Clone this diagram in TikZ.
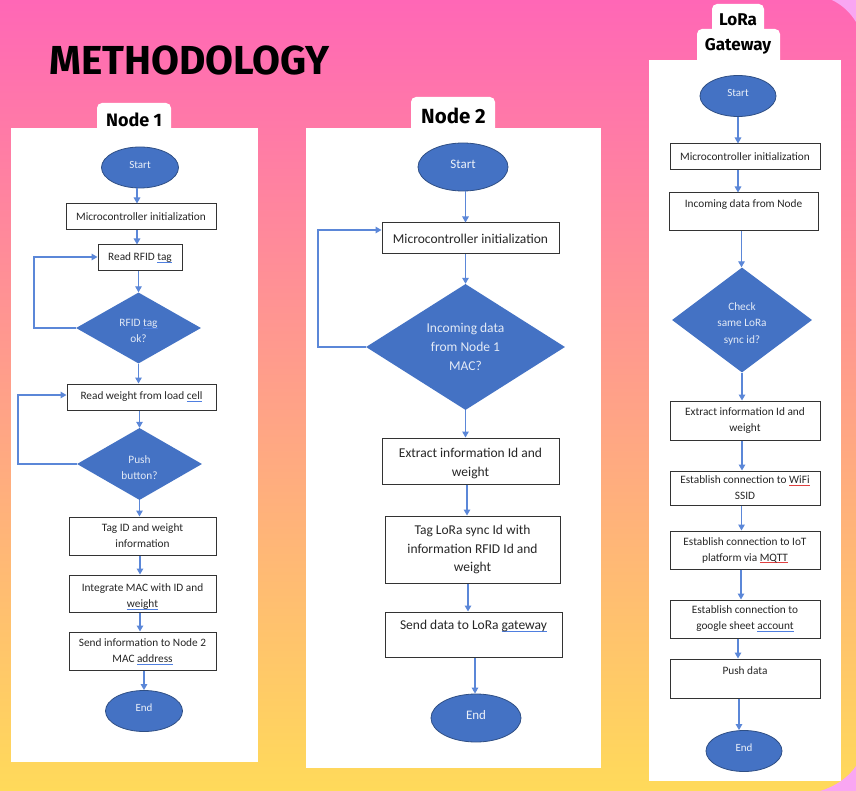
\documentclass[tikz,border=0pt]{standalone}
\usepackage{fontspec}
\setmainfont{Carlito}
\newfontfamily\headfont{Fira Sans}
\usetikzlibrary{shapes.geometric,arrows.meta}
\definecolor{flowblue}{HTML}{4472C4}
\definecolor{arrowblue}{HTML}{5B87D8}
\definecolor{edgeblue}{HTML}{2F4F85}
\definecolor{boxedge}{HTML}{333333}
\definecolor{bandpink}{HTML}{FF67B6}
\definecolor{bandmid}{HTML}{FF9A8E}
\definecolor{bandyellow}{HTML}{FFDA5A}
\definecolor{cornerpink}{HTML}{F9A6F2}
\definecolor{wavyblue}{HTML}{4F7FE0}
\definecolor{wavyred}{HTML}{E04040}
\newcommand{\sqb}[1]{{\setbox0\hbox{#1}\rlap{\smash{\raisebox{-2.2pt}{\textcolor{wavyblue}{\rule{\wd0}{0.9pt}}}}}\box0}}
\newcommand{\sqr}[1]{{\setbox0\hbox{#1}\rlap{\smash{\raisebox{-2.2pt}{\textcolor{wavyred}{\rule{\wd0}{0.9pt}}}}}\box0}}
\newcommand{\tp}[1]{\rule{0pt}{#1pt}}
\tikzset{
  x=1pt,y=-1pt,
  boxa/.style={draw=boxedge,line width=1pt,fill=white,inner sep=0pt,align=center,text=black!85,font=\fontsize{11.3}{16}\selectfont},
  boxb/.style={boxa,font=\fontsize{13.5}{18.5}\selectfont},
  term/.style={ellipse,draw=edgeblue,line width=0.8pt,fill=flowblue,text=white!90!flowblue,inner sep=0pt,text depth=6pt,font=\fontsize{11}{12}\selectfont},
  termb/.style={term,font=\fontsize{13}{14}\selectfont},
  dec/.style={diamond,fill=flowblue,text=white!85!flowblue,inner xsep=-15pt,inner ysep=-10pt,align=center,font=\fontsize{11.3}{16.5}\selectfont},
  decb/.style={dec,inner xsep=-25pt,inner ysep=-18pt,font=\fontsize{13.5}{19}\selectfont},
  arr/.style={draw=arrowblue,line width=1.3pt,-{Triangle[length=6pt,width=6.5pt]}},
  headtext/.style={inner sep=0pt,text=black,font=\headfont\bfseries\fontsize{#1}{#1}\selectfont},
}
\newcommand{\rectnode}[7]{\node[#2,minimum width=#5-#3,minimum height=#6-#4] (#1) at ({(#3+#5)/2},{(#4+#6)/2}) {#7};}
\newcommand{\vv}[3]{\draw[arr] (#1.south -| #3,0) -- (#2.north -| #3,0);}
\begin{document}
\begin{tikzpicture}
\useasboundingbox (0,0) rectangle (856,791);
\fill[top color=bandpink,middle color=bandmid,bottom color=bandyellow] (0,0) rectangle (856,791);
\fill[cornerpink] (832,0) .. controls (842,5) and (850,12) .. (856,22) -- (856,0) -- cycle;
\fill[cornerpink] (820,791) .. controls (834,787) and (848,778) .. (856,766) -- (856,791) -- cycle;
\node[headtext=40.5,anchor=base west] (title) at (49,74.5) {METHODOLOGY};

% panels
\fill[white,rounded corners=5pt] (97,103) rectangle (171,135);
\fill[white,rounded corners=5pt] (411,97) rectangle (495,135);
\fill[white,rounded corners=5pt] (712,4) rectangle (764,40);
\fill[white,rounded corners=5pt] (697,29) rectangle (780,66);
\fill[white] (11,128) rectangle (258,762);
\fill[white] (306,128) rectangle (601,768);
\fill[white] (649,60) rectangle (841,781);
\node[headtext=18] (tab1) at (134,119.5) {Node 1};
\node[headtext=20.5] (tab2) at (453.5,116) {Node 2};
\node[headtext=17,align=center,font=\headfont\bfseries\fontsize{17}{25}\selectfont] (tab3) at (738,34) {LoRa\\Gateway};

% Node 1
\node[term,minimum width=77,minimum height=41] (s1) at (140,167.5) {Start};
\rectnode{m1}{boxa}{66}{204}{216}{230}{Microcontroller initialization}
\rectnode{r1}{boxa}{98}{245}{182}{271}{Read RFID \sqb{tag}}
\node[dec,minimum width=125,minimum height=71] (d1) at (138.5,328) {\tp{13}RFID \sqb{tag}\\ok?};
\rectnode{w1}{boxa}{67}{384}{216}{410}{Read weight from load \sqb{cell}}
\node[dec,minimum width=125,minimum height=72] (d2) at (139.5,464) {\tp{15}Push\\button?};
\rectnode{t1}{boxa}{69}{517}{216}{555}{Tag ID and weight\\information}
\rectnode{i1}{boxa}{69}{575}{216}{612}{\tp{14}Integrate MAC with ID and\\\sqb{weight}}
\rectnode{n1}{boxa}{69}{632}{216}{670}{Send information to Node 2\\MAC \sqb{address}}
\node[term,minimum width=77,minimum height=41] (e1) at (144,711) {End};
\vv{s1}{m1}{137}
\vv{m1}{r1}{137}
\vv{r1}{d1}{138.5}
\vv{d1}{w1}{138.5}
\vv{w1}{d2}{139.5}
\vv{d2}{t1}{139.5}
\vv{t1}{i1}{140}
\vv{i1}{n1}{140}
\vv{n1}{e1}{144}
\draw[arr] (d1.west) -- (34,328) -- (34,257) -- ([yshift=1pt]r1.west);
\draw[arr] (d2.west) -- (18,464) -- (18,395) -- ([yshift=2pt]w1.west);

% Node 2
\node[termb,minimum width=90,minimum height=48] (s2) at (463,167) {Start};
\rectnode{m2}{boxb}{382}{223}{559}{254}{Microcontroller initialization}
\node[decb,minimum width=199,minimum height=126] (d3) at (465.5,347) {Incoming data\\from Node 1\\MAC?};
\rectnode{x2}{boxb}{382}{438}{559}{484}{\tp{14}Extract information Id and\\weight}
\rectnode{t2}{boxb}{385}{516}{560}{583}{Tag LoRa sync Id with\\information RFID Id and\\weight}
\rectnode{n2}{boxb}{385}{612}{562}{657}{\tp{14}Send data to LoRa \sqb{gateway}\\[6pt]~}
\node[termb,minimum width=90,minimum height=48] (e2) at (476,718) {End};
\vv{s2}{m2}{465.5}
\vv{m2}{d3}{465.5}
\vv{d3}{x2}{465.5}
\vv{x2}{t2}{467}
\vv{t2}{n2}{468}
\vv{n2}{e2}{475}
\draw[arr] (d3.west) -- (318,347) -- (318,230) -- ([yshift=8.5pt]m2.west);

% Gateway
\node[term,minimum width=76,minimum height=41] (s3) at (738,96) {Start};
\rectnode{m3}{boxa}{670}{144}{820}{170}{\tp{8}Microcontroller initialization}
\rectnode{c3}{boxa}{669}{193}{818}{231}{Incoming data from Node\\~}
\node[dec,minimum width=140,minimum height=105] (d4) at (742,320) {\tp{15}Check\\same LoRa\\sync id?};
\rectnode{x3}{boxa}{670}{401}{820}{440}{Extract information Id and\\weight}
\rectnode{f3}{boxa}{670}{471}{820}{505}{Establish connection to \sqr{WiFi}\\SSID}
\rectnode{o3}{boxa}{670}{531}{820}{569}{Establish connection to IoT\\platform via \sqr{MQTT}}
\rectnode{g3}{boxa}{670}{600}{820}{638}{Establish connection to\\google sheet \sqb{account}}
\rectnode{p3}{boxa}{670}{659}{820}{698}{Push data\\~}
\node[term,minimum width=76,minimum height=41] (e3) at (744,751) {End};
\vv{s3}{m3}{738}
\vv{m3}{c3}{738}
\vv{c3}{d4}{741.5}
\vv{d4}{x3}{742}
\vv{x3}{f3}{742}
\vv{f3}{o3}{741.5}
\vv{o3}{g3}{741}
\vv{g3}{p3}{738}
\vv{p3}{e3}{739}
\end{tikzpicture}
\end{document}
